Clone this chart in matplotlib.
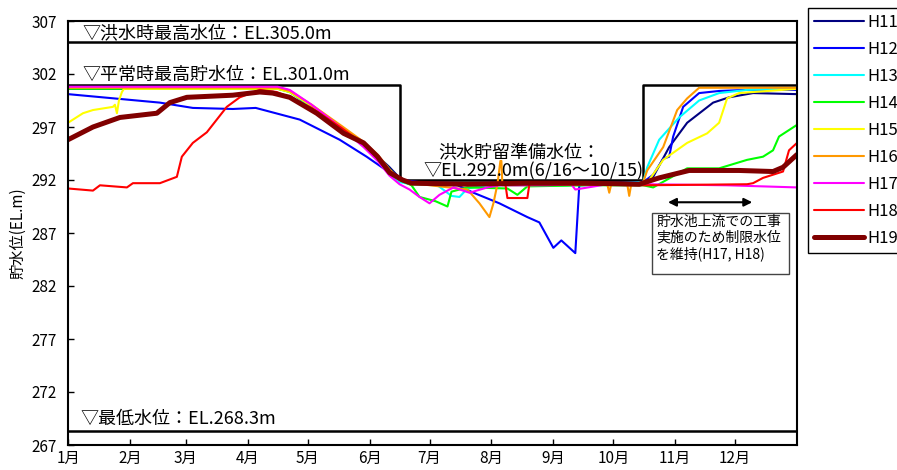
import matplotlib
matplotlib.use('Agg')
import matplotlib.pyplot as plt
from matplotlib.patches import Rectangle

plt.rcParams['font.family'] = ['Noto Sans CJK JP', 'DejaVu Sans']

# day of year (0 = 1月1日) and reservoir level (EL.m)
month_starts = [0, 31, 59, 90, 120, 151, 181, 212, 243, 273, 304, 334]
month_labels = ['1月', '2月', '3月', '4月', '5月', '6月', '7月', '8月', '9月', '10月', '11月', '12月']
y_ticks = [267, 272, 277, 282, 287, 292, 297, 302, 307]

flood_max = 305.0
min_level = 268.3
rule_days = [0, 166, 166, 288, 288, 365]
rule_levels = [301.0, 301.0, 292.0, 292.0, 301.0, 301.0]

h11_days = [0, 30, 60, 90, 105, 110, 122, 137, 149, 161, 166, 170, 200, 230, 260, 286, 290, 293, 301, 310, 323, 331, 343, 365]
h11_lv = [300.6, 300.6, 300.6, 300.6, 300.6, 300.5, 298.8, 296.9, 295.3, 293.2, 292.2, 291.8, 291.7, 291.8, 291.7, 291.8, 292.0, 292.3, 295.1, 297.4, 299.3, 299.8, 300.2, 300.1]

h12_days = [0, 46, 62.5, 82.5, 94, 116, 136, 149.5, 161, 167.5, 180, 195, 203, 216, 230, 236, 243, 247, 254, 256, 270, 288, 293, 298, 301, 303, 308, 316, 326, 340, 365]
h12_lv = [300.1, 299.3, 298.8, 298.7, 298.8, 297.7, 295.8, 294.2, 292.7, 292.0, 291.7, 291.5, 290.8, 289.8, 288.5, 288.0, 285.6, 286.3, 285.1, 291.5, 291.6, 291.8, 292.5, 294.0, 294.2, 296.1, 298.9, 300.2, 300.4, 300.5, 300.5]

h13_days = [0, 105, 111, 122, 137, 148, 155, 161, 166, 172, 185, 192, 196, 200, 210, 250, 288, 290, 296, 306, 316, 326, 340, 365]
h13_lv = [300.7, 300.7, 300.3, 298.9, 296.8, 295.2, 293.9, 292.5, 291.8, 291.6, 291.5, 290.5, 290.4, 291.2, 291.5, 291.5, 291.8, 293.2, 295.8, 297.9, 299.5, 300.2, 300.5, 300.6]

h14_days = [0, 105, 111, 122, 137, 148, 155, 161, 166, 172, 176, 184, 190, 192, 200, 220, 225, 230, 260, 288, 293, 310, 326, 340, 348, 353, 356, 365]
h14_lv = [300.6, 300.6, 300.3, 299.0, 297.0, 295.4, 294.3, 293.0, 292.0, 291.5, 290.4, 290.0, 289.5, 290.9, 291.3, 291.2, 290.6, 291.4, 291.5, 291.5, 291.3, 293.1, 293.1, 293.9, 294.2, 294.8, 296.1, 297.2]

h15_days = [0, 2.5, 7.5, 12.5, 22.5, 23.5, 24.5, 25.5, 27, 28, 105, 111, 122, 137, 148, 155, 161, 166, 172, 200, 250, 288, 291, 298, 310, 320, 326, 330, 336, 365]
h15_lv = [297.4, 297.7, 298.3, 298.6, 298.9, 299.1, 298.3, 299.5, 300.3, 300.6, 300.6, 300.3, 299.0, 297.0, 295.5, 294.3, 292.9, 292.0, 291.6, 291.6, 291.6, 291.7, 292.0, 293.9, 295.5, 296.4, 297.4, 299.7, 300.2, 300.6]

h16_days = [0, 105, 111, 122, 137, 148, 155, 161, 166, 172, 200, 206, 211, 213, 215, 216.5, 217, 217.5, 225, 260, 270, 271, 272, 280, 281, 282, 288, 290, 298, 305, 310, 316, 340, 365]
h16_lv = [300.7, 300.7, 300.4, 299.1, 297.1, 295.6, 294.4, 293.0, 292.1, 291.7, 291.1, 289.8, 288.5, 289.8, 291.6, 293.8, 293.8, 291.5, 291.5, 291.6, 291.6, 290.8, 291.6, 291.6, 290.5, 291.6, 291.8, 292.9, 295.1, 298.6, 299.7, 300.7, 300.7, 300.7]

h17_days = [0, 105, 111, 122, 137, 148, 155, 161, 166, 171, 176, 181, 186, 193, 201, 210, 216, 240, 252, 254, 270, 290, 330, 365]
h17_lv = [300.8, 300.8, 300.5, 299.1, 296.9, 295.1, 293.8, 292.4, 291.6, 291.1, 290.4, 289.8, 290.6, 291.3, 290.8, 291.3, 291.5, 291.5, 291.6, 291.1, 291.6, 291.6, 291.5, 291.3]

h18_days = [0, 12.5, 16, 29.5, 32.5, 46, 54.5, 57, 62.5, 69.5, 79.5, 86, 96, 104.5, 111, 122, 137, 148, 155, 161, 166, 172, 200, 219, 220, 230, 231, 250, 288, 340, 343, 348, 358, 361, 365]
h18_lv = [291.2, 291.0, 291.5, 291.3, 291.7, 291.7, 292.3, 294.2, 295.5, 296.5, 298.9, 299.8, 300.5, 300.3, 299.8, 298.8, 296.9, 295.4, 294.2, 292.8, 292.0, 291.7, 291.6, 291.6, 290.3, 290.3, 291.6, 291.6, 291.5, 291.6, 291.7, 292.2, 292.8, 294.8, 295.5]

h19_days = [0, 12.5, 26, 44.5, 51, 59.5, 82.5, 96, 102.5, 111, 124.5, 138, 148, 155, 161, 167.5, 172, 200, 230, 260, 286, 296, 311, 336, 353, 358, 365]
h19_lv = [295.8, 297.0, 297.9, 298.3, 299.3, 299.8, 300.0, 300.3, 300.2, 299.8, 298.3, 296.4, 295.5, 294.2, 292.7, 292.0, 291.7, 291.6, 291.7, 291.7, 291.6, 292.2, 292.9, 292.9, 292.8, 293.2, 294.4]

series = [
    ('H11', h11_days, h11_lv, '#000080', 1.5),
    ('H12', h12_days, h12_lv, '#0000FF', 1.5),
    ('H13', h13_days, h13_lv, '#00FFFF', 1.5),
    ('H14', h14_days, h14_lv, '#00FF00', 1.5),
    ('H15', h15_days, h15_lv, '#FFFF00', 1.5),
    ('H16', h16_days, h16_lv, '#FF9900', 1.5),
    ('H17', h17_days, h17_lv, '#FF00FF', 1.5),
    ('H18', h18_days, h18_lv, '#FF0000', 1.5),
    ('H19', h19_days, h19_lv, '#800000', 3.6),
]

fig = plt.figure(figsize=(8.97, 4.70), dpi=100)
ax = fig.add_axes([68 / 897, 1 - 445 / 470, 729 / 897, 424 / 470])

# reference water levels
ax.axhline(flood_max, color='black', lw=1.8, zorder=1)
ax.axhline(min_level, color='black', lw=1.8, zorder=1)
ax.plot(rule_days, rule_levels, color='black', lw=1.8, zorder=1)

for name, d, v, c, lw in series:
    ax.plot(d, v, color=c, lw=lw, label=name, zorder=2, solid_capstyle='round')

ax.set_xlim(0, 365)
ax.set_ylim(267, 307)
ax.set_xticks(month_starts)
ax.set_xticklabels(month_labels)
ax.set_yticks(y_ticks)
ax.tick_params(direction='in', length=4, width=1, labelsize=11)
ax.tick_params(axis='y', pad=8)
for s in ax.spines.values():
    s.set_linewidth(1.5)
ax.set_ylabel('貯水位(EL.m)', fontsize=11, labelpad=4)

ax.text(7, 305.8, '▽洪水時最高水位：EL.305.0m', fontsize=13, va='center')
ax.text(7, 301.9, '▽平常時最高貯水位：EL.301.0m', fontsize=13, va='center')
ax.text(6, 269.5, '▽最低水位：EL.268.3m', fontsize=13, va='center')
ax.text(226, 294.6, '洪水貯留準備水位：', fontsize=13, va='center', ha='center')
ax.text(178, 292.8, '▽EL.292.0m(6/16～10/15)', fontsize=13, va='center')

ax.annotate('', xy=(344, 289.9), xytext=(299, 289.9),
            arrowprops=dict(arrowstyle='<|-|>', color='black', lw=1.5, mutation_scale=12))
ax.add_patch(Rectangle((292.5, 283.1), 68.5, 5.8, fill=False, ec='#444444', lw=1.0, zorder=3))
ax.text(294.5, 288.7, '貯水池上流での工事\n実施のため制限水位\nを維持(H17, H18)',
        fontsize=10, va='top', ha='left', linespacing=1.15)

fig.legend(loc='upper left', bbox_to_anchor=(808 / 897, 1 - 8 / 470), fontsize=12,
           frameon=True, fancybox=False, edgecolor='black', framealpha=1,
           handlelength=3.0, labelspacing=0.6, borderpad=0.35, borderaxespad=0,
           handletextpad=0.2)

fig.savefig('out.png', dpi=100)
